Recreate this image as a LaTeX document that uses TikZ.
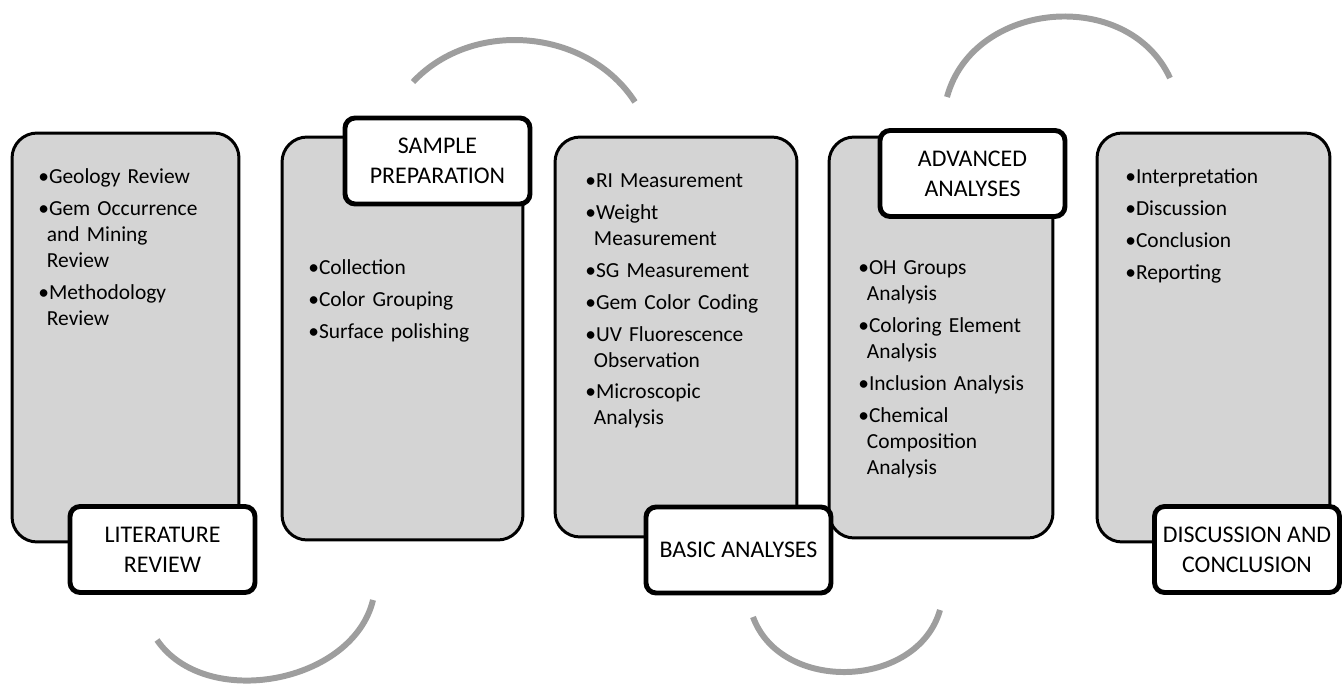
\documentclass[tikz,border=0pt]{standalone}
\usepackage{fontspec}
\setmainfont{Carlito}
\usetikzlibrary{positioning}

\definecolor{boxgray}{RGB}{212,212,212}
\definecolor{arcgray}{RGB}{158,158,158}
% next bullet, and a wrapped line of the same bullet
\newcommand{\nxt}{\\[3.4pt]\textbullet}
\newcommand{\nl}{\\\hspace*{0.4em}}

\tikzset{
  stage/.style={draw, fill=boxgray, line width=1.7pt, rounded corners=0.5cm},
  stagelab/.style={draw, fill=white, line width=2.8pt, rounded corners=0.2cm,
    minimum width=3.7cm, minimum height=1.72cm, align=center,
    font=\fontsize{13.6}{17}\selectfont},
  items/.style={anchor=north west, inner sep=0pt, text width=4.2cm, align=left,
    font=\fontsize{12.2}{14.8}\selectfont},
  flow/.style={draw=arcgray, line width=3.4pt}
}

\begin{document}
\begin{tikzpicture}[x=0.02cm, y=0.02cm]
  \useasboundingbox (0,0) rectangle (1343,-692);

  % the five stages
  \node[stage, minimum width=4.54cm, minimum height=8.18cm] (lit) at (125.5,-337.5) {};
  \node[stage, minimum width=4.82cm, minimum height=8.06cm] (prep) at (402.5,-338.5) {};
  \node[stage, minimum width=4.84cm, minimum height=8.0cm] (basic) at (676,-337) {};
  \node[stage, minimum width=4.48cm, minimum height=8.02cm] (adv) at (941,-337.5) {};
  \node[stage, minimum width=4.66cm, minimum height=8.18cm] (disc) at (1213.5,-337.5) {};

  \node[items] (litlist) at (38,-168) {\textbullet Geology Review
    \nxt Gem Occurrence\nl and Mining\nl Review
    \nxt Methodology\nl Review};
  \node[items] (preplist) at (308,-259) {\textbullet Collection
    \nxt Color Grouping
    \nxt Surface polishing};
  \node[items] (basiclist) at (585,-173) {\textbullet RI Measurement
    \nxt Weight\nl Measurement
    \nxt SG Measurement
    \nxt Gem Color Coding
    \nxt UV Fluorescence\nl Observation
    \nxt Microscopic\nl Analysis};
  \node[items] (advlist) at (858,-260) {\textbullet OH Groups\nl Analysis
    \nxt Coloring Element\nl Analysis
    \nxt Inclusion Analysis
    \nxt Chemical\nl Composition\nl Analysis};
  \node[items] (disclist) at (1125,-168) {\textbullet Interpretation
    \nxt Discussion
    \nxt Conclusion
    \nxt Reporting};

  % titles
  \node[stagelab] (litlab) at (162.5,-549.5) {LITERATURE\\REVIEW};
  \node[stagelab] (preplab) at (437.5,-161) {SAMPLE\\PREPARATION};
  \node[stagelab] (basiclab) at (738.5,-550) {BASIC ANALYSES};
  \node[stagelab] (advlab) at (972.5,-173.5) {ADVANCED\\ANALYSES};
  \node[stagelab] (disclab) at (1247,-549.5) {DISCUSSION AND\\CONCLUSION};

  % arcs between stages
  \coordinate (a1s) at (157,-640);
  \coordinate (a1e) at (373,-600);
  \coordinate (a2s) at (413,-82);
  \coordinate (a2e) at (635,-102);
  \coordinate (a3s) at (753,-617);
  \coordinate (a3e) at (940,-610);
  \coordinate (a4s) at (947,-97);
  \coordinate (a4e) at (1170,-78);
  \draw[flow] (a1s) to[bend right=66] (a1e);
  \draw[flow] (a2s) to[bend left=52] (a2e);
  \draw[flow] (a3s) to[bend right=72, looseness=1.12] (a3e);
  \draw[flow] (a4s) to[bend left=70, looseness=1.15] (a4e);
\end{tikzpicture}
\end{document}
